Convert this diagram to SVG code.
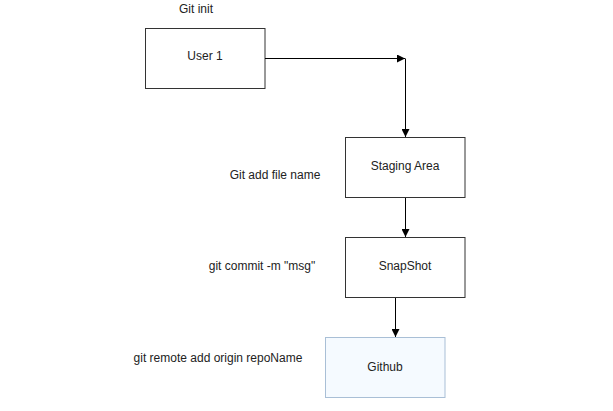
<svg xmlns="http://www.w3.org/2000/svg" width="613" height="411" viewBox="0 0 613 411">
<defs>
<marker id="arr" viewBox="0 0 10 10" refX="10" refY="5" markerWidth="8" markerHeight="8" markerUnits="userSpaceOnUse" orient="auto">
<path d="M0,0 L10,5 L0,10 Z" fill="#000"/>
</marker>
</defs>
<style>
text{font-family:"Liberation Sans",Arial,sans-serif;font-size:12px;fill:#222;}
.box{fill:#fff;stroke:#333;stroke-width:1;}
.gh{fill:#f5faff;stroke:#a9bfd6;stroke-width:1;}
.c{fill:none;stroke:#000;stroke-width:1;}
</style>
<rect width="613" height="411" fill="#fff"/>
<g id="labels">
<text x="196" y="13" text-anchor="middle">Git init</text>
<text x="275" y="179" text-anchor="middle">Git add file name</text>
<text x="262" y="270" text-anchor="middle">git commit -m "msg"</text>
<text x="218" y="362" text-anchor="middle">git remote add origin repoName</text>
</g>
<g id="user1">
<rect class="box" x="145.5" y="28.5" width="119.5" height="60"/>
<text x="205" y="60" text-anchor="middle">User 1</text>
</g>
<g id="staging">
<rect class="box" x="345.5" y="137.5" width="119.5" height="60"/>
<text x="405" y="170" text-anchor="middle">Staging Area</text>
</g>
<g id="snapshot">
<rect class="box" x="345.5" y="237.5" width="119.5" height="60"/>
<text x="405" y="270" text-anchor="middle">SnapShot</text>
</g>
<g id="github">
<rect class="gh" x="325.5" y="337.5" width="119.5" height="60"/>
<text x="385" y="371" text-anchor="middle">Github</text>
</g>
<g id="connectors">
<path class="c" d="M265,58.5 H405" marker-end="url(#arr)"/>
<path class="c" d="M405.5,58.5 V137" marker-end="url(#arr)"/>
<path class="c" d="M405.5,198 V237" marker-end="url(#arr)"/>
<path class="c" d="M395.5,298 V337" marker-end="url(#arr)"/>
</g>
</svg>
